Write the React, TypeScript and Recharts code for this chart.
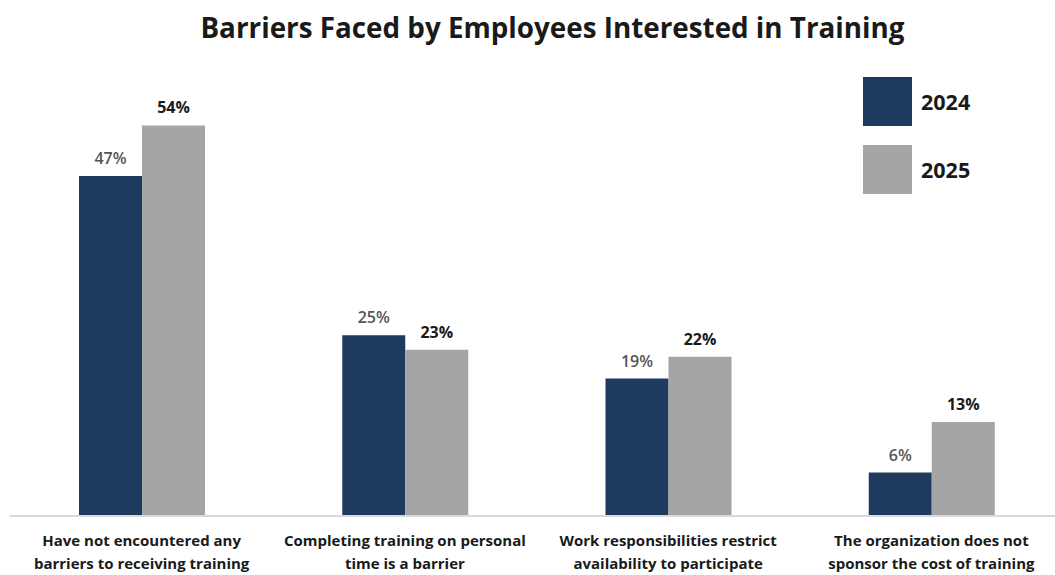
import { Bar, BarChart, LabelList, XAxis, YAxis } from "recharts";

const categories = [
  ["Have not encountered any", "barriers to receiving training"],
  ["Completing training on personal", "time is a barrier"],
  ["Work responsibilities restrict", "availability to participate"],
  ["The organization does not", "sponsor the cost of training"],
];
const values2024 = [47, 25, 19, 6];
const values2025 = [54, 23, 22, 13];
const seriesNames = ["2024", "2025"];

const NAVY = "#1f3a5f";
const GREY = "#a5a5a7";
const FONT = "'Open Sans', 'Noto Sans', sans-serif";

const data = categories.map((lines, i) => ({
  name: lines.join(" "),
  y2024: values2024[i],
  y2025: values2025[i],
}));

function CategoryTick({ x, y, payload, index }: any) {
  const lines = categories[index] ?? [String(payload?.value ?? "")];
  return (
    <g transform={`translate(${x},${y})`}>
      {lines.map((line, i) => (
        <text
          key={i}
          x={0}
          y={22 + i * 23}
          textAnchor="middle"
          fill="#1a1a1a"
          fontSize={15}
          fontWeight={700}
          fontFamily={FONT}
        >
          {line}
        </text>
      ))}
    </g>
  );
}

function makeLabel(color: string, weight: number) {
  return function ValueLabel({ x, y, width, value }: any) {
    return (
      <text
        x={x + width / 2}
        y={y - 12}
        textAnchor="middle"
        fill={color}
        fontSize={16}
        fontWeight={weight}
        fontFamily={FONT}
      >
        {`${value}%`}
      </text>
    );
  };
}

function LegendBox() {
  const items = [
    { label: seriesNames[0], color: NAVY, top: 77 },
    { label: seriesNames[1], color: GREY, top: 145 },
  ];
  return (
    <>
      {items.map((it) => (
        <div key={it.label} style={{ position: "absolute", left: 863, top: it.top, display: "flex", alignItems: "center" }}>
          <div style={{ width: 49, height: 49, background: it.color }} />
          <span style={{ marginLeft: 9, fontFamily: FONT, fontSize: 21.5, fontWeight: 700, color: "#1a1a1a" }}>
            {it.label}
          </span>
        </div>
      ))}
    </>
  );
}

export default function App() {
  return (
    <div style={{ position: "absolute", top: 0, left: 0, width: 1055, height: 575, overflow: "hidden", background: "#fff" }}>
      <div
        style={{
          position: "absolute",
          top: 14,
          left: 0,
          width: 1105,
          textAlign: "center",
          fontFamily: FONT,
          fontSize: 27.8,
          lineHeight: 1,
          fontWeight: 700,
          color: "#1a1a1a",
        }}
      >
        Barriers Faced by Employees Interested in Training
      </div>
      <BarChart
        width={1063}
        height={575}
        data={data}
        margin={{ top: 82, right: 0, left: 10, bottom: 0 }}
        barCategoryGap={69}
        barGap={0}
      >
        <XAxis
          dataKey="name"
          axisLine={{ stroke: "#d9d9d9", strokeWidth: 2 }}
          tickLine={false}
          interval={0}
          tick={<CategoryTick />}
          height={59}
        />
        <YAxis hide domain={[0, 60]} />
        <Bar dataKey="y2024" name={seriesNames[0]} fill={NAVY} isAnimationActive={false}>
          <LabelList dataKey="y2024" content={makeLabel("#555555", 600)} />
        </Bar>
        <Bar dataKey="y2025" name={seriesNames[1]} fill={GREY} isAnimationActive={false}>
          <LabelList dataKey="y2025" content={makeLabel("#1a1a1a", 700)} />
        </Bar>
      </BarChart>
      <LegendBox />
    </div>
  );
}
